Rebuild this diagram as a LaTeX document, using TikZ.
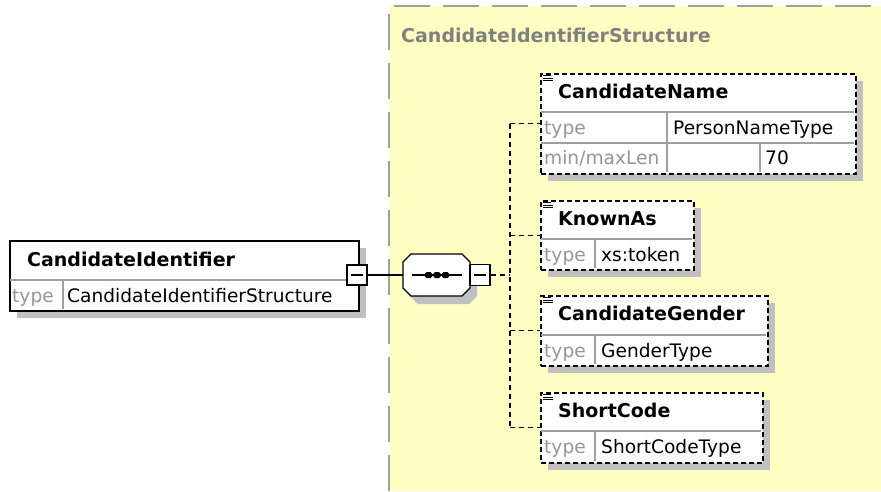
\documentclass[tikz,border=0pt]{standalone}
\usepackage{fontspec}
\setmainfont{DejaVu Sans}
\definecolor{bgyellow}{RGB}{255,255,196}
\definecolor{bordgray}{RGB}{160,160,160}
\definecolor{shadowgray}{RGB}{192,192,192}
\definecolor{divgray}{RGB}{160,160,160}
\definecolor{labelgray}{RGB}{150,150,150}
\definecolor{titlegray}{RGB}{128,128,128}
\tikzset{
  shadowbox/.style={fill=shadowgray, draw=none},
  solidbox/.style={draw=black, line width=1.5pt, fill=white, inner sep=0pt, anchor=north west},
  optbox/.style={draw=black, line width=1.5pt, dash pattern=on 5pt off 3pt, fill=white, inner sep=0pt, anchor=north west},
  expbox/.style={draw=black, line width=1.3pt, fill=white, inner sep=0pt, minimum size=20pt},
  divider/.style={draw=divgray, line width=1.2pt},
  conn/.style={draw=black, line width=1.3pt},
  optconn/.style={conn, dash pattern=on 5pt off 4pt},
  eltitle/.style={font=\bfseries\fontsize{19}{21}\selectfont, anchor=base west, inner sep=0pt},
  lbl/.style={font=\fontsize{18.6}{20}\selectfont, text=labelgray, anchor=base west, inner sep=0pt},
  val/.style={font=\fontsize{18.6}{20}\selectfont, anchor=base west, inner sep=0pt},
  grptitle/.style={font=\bfseries\fontsize{19}{21}\selectfont, text=titlegray, anchor=base west, inner sep=0pt},
  icon/.style={draw=black, line width=1pt},
  dot/.style={fill=black, draw=none, rounded corners=1.5pt, minimum width=7pt, minimum height=6pt, inner sep=0pt}
}
\begin{document}
\begin{tikzpicture}[x=1pt,y=-1pt]
\useasboundingbox (0,0) rectangle (881,491);
\fill[white] (0,0) rectangle (881,491);
% group background
\fill[bgyellow] (389,6) rectangle (881,491);
\draw[bordgray, line width=2.5pt, dash pattern=on 36pt off 13pt] (389,491) -- (389,6) -- (881,6);
\node[grptitle] (grp) at (401,42) {CandidateIdentifierStructure};

% ---- CandidateIdentifier
\fill[shadowbox] (17,248) rectangle (366,318);
\node[solidbox, minimum width=349pt, minimum height=70pt] (ci) at (9,240) {};
\draw[divider] (10,280) -- (357,280);
\draw[divider] (63,280) -- (63,309);
\node[eltitle] (citit) at (27,266) {CandidateIdentifier};
\node[lbl] (cityp) at (12,302) {type};
\node[val] (cival) at (67,302) {CandidateIdentifierStructure};
\node[expbox] (ciexp) at (357,275) {};
\draw[line width=1.5pt] ([xshift=-6pt]ciexp.center) -- ([xshift=6pt]ciexp.center);

% ---- sequence compositor
\fill[shadowbox] (418,262) -- (469,262) -- (477,270) -- (477,296) -- (469,304) -- (418,304) -- (410,296) -- (410,270) -- cycle;
\node[minimum width=67pt, minimum height=42pt, inner sep=0pt] (seq) at (436.5,275) {};
\draw[line width=1.3pt, fill=white] (411,254) -- (462,254) -- (470,262) -- (470,288) -- (462,296) -- (411,296) -- (403,288) -- (403,262) -- cycle;
\draw[line width=1.3pt] (412,275) -- (462,275);
\node[dot] (d1) at (428.5,275) {};
\node[dot] (d2) at (437,275) {};
\node[dot] (d3) at (445.5,275) {};
\node[expbox, minimum height=21pt] (seqexp) at (480,275) {};
\draw[line width=1.5pt] ([xshift=-6pt]seqexp.center) -- ([xshift=6pt]seqexp.center);
\draw[conn] (ciexp.east) -- (seq.west);

% ---- CandidateName
\fill[shadowbox] (548,81) rectangle (863,181);
\node[optbox, minimum width=315pt, minimum height=100pt] (cn) at (540,73) {};
\draw[divider] (541,112) -- (854,112);
\draw[divider] (541,143) -- (854,143);
\draw[divider] (667,112) -- (667,172);
\draw[divider] (760,143) -- (760,172);
\node[eltitle] (cntit) at (558,98) {CandidateName};
\node[lbl] (cntyp) at (544,134) {type};
\node[val] (cnval) at (673,134) {PersonNameType};
\node[lbl] (cnlen) at (544,164) {min/maxLen};
\node[val] (cnmax) at (765,164) {70};
\draw[icon] (543,75.5) -- (551,75.5) (543,78) -- (553,78) (543,80.5) -- (553,80.5);

% ---- KnownAs
\fill[shadowbox] (548,208) rectangle (701,277);
\node[optbox, minimum width=153pt, minimum height=69pt] (ka) at (540,200) {};
\draw[divider] (541,239) -- (692,239);
\draw[divider] (595,239) -- (595,268);
\node[eltitle] (katit) at (558,225) {KnownAs};
\node[lbl] (katyp) at (544,261) {type};
\node[val] (kaval) at (601,261) {xs:token};
\draw[icon] (543,202.5) -- (551,202.5) (543,205) -- (553,205) (543,207.5) -- (553,207.5);

% ---- CandidateGender
\fill[shadowbox] (548,303) rectangle (775,373);
\node[optbox, minimum width=227pt, minimum height=70pt] (cg) at (540,295) {};
\draw[divider] (541,335) -- (766,335);
\draw[divider] (595,335) -- (595,364);
\node[eltitle] (cgtit) at (558,320) {CandidateGender};
\node[lbl] (cgtyp) at (544,357) {type};
\node[val] (cgval) at (601,357) {GenderType};
\draw[icon] (543,297.5) -- (551,297.5) (543,300) -- (553,300) (543,302.5) -- (553,302.5);

% ---- ShortCode
\fill[shadowbox] (548,400) rectangle (770,470);
\node[optbox, minimum width=222pt, minimum height=70pt] (sc) at (540,392) {};
\draw[divider] (541,431) -- (761,431);
\draw[divider] (595,431) -- (595,461);
\node[eltitle] (sctit) at (558,417) {ShortCode};
\node[lbl] (sctyp) at (544,453) {type};
\node[val] (scval) at (601,453) {ShortCodeType};
\draw[icon] (543,394.5) -- (551,394.5) (543,397) -- (553,397) (543,399.5) -- (553,399.5);

% ---- connectors
\coordinate (bus) at (510,275);
\draw[optconn] (seqexp.east) -- (bus);
\draw[optconn] (bus |- cn.west) -- (bus |- sc.west);
\draw[optconn] (bus |- cn.west) -- (cn.west);
\draw[optconn] (bus |- ka.west) -- (ka.west);
\draw[optconn] (bus |- cg.west) -- (cg.west);
\draw[optconn] (bus |- sc.west) -- (sc.west);
\end{tikzpicture}
\end{document}
